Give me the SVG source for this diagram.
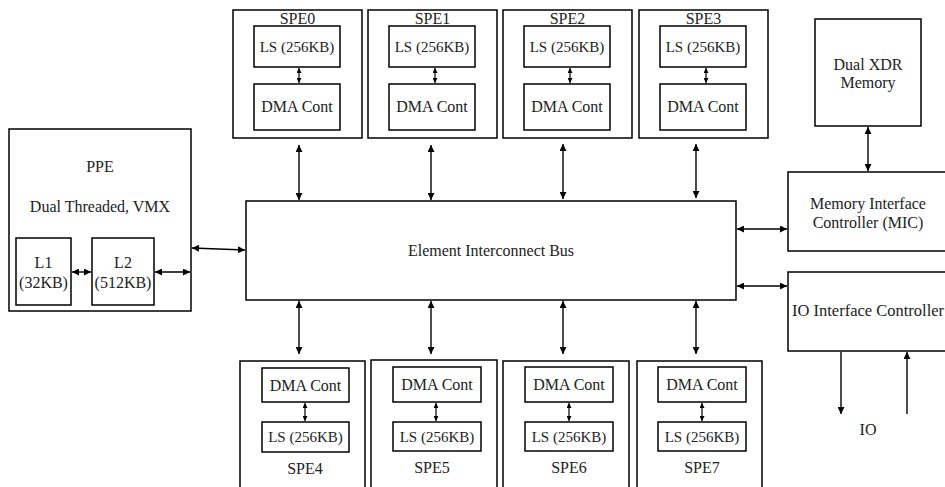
<svg xmlns="http://www.w3.org/2000/svg" width="945" height="487" viewBox="0 0 945 487">
<style>
  rect { fill: #fff; stroke: #000; stroke-width: 1.5; }
  text { font-family: "Liberation Serif", "DejaVu Serif", serif; font-size: 16px; fill: #222; text-anchor: middle; }
  text.ls { font-size: 15px; }
  .ln { stroke: #000; stroke-width: 1.4; fill: none; marker-start: url(#ah); marker-end: url(#ah); }
  .sm { stroke: #000; stroke-width: 1.2; fill: none; marker-start: url(#as); marker-end: url(#as); }
  .one { stroke: #000; stroke-width: 1.4; fill: none; marker-end: url(#ah); }
</style>
<defs>
  <marker id="ah" viewBox="0 0 10 10" refX="10" refY="5" markerUnits="userSpaceOnUse" markerWidth="8" markerHeight="7" orient="auto-start-reverse">
    <path d="M0,0 L10,5 L0,10 z" fill="#000"/>
  </marker>
  <marker id="as" viewBox="0 0 10 10" refX="10" refY="5" markerUnits="userSpaceOnUse" markerWidth="6" markerHeight="5" orient="auto-start-reverse">
    <path d="M0,0 L10,5 L0,10 z" fill="#000"/>
  </marker>
</defs>

<g id="spe0">
  <rect x="233" y="10" width="129" height="128"/>
  <text x="297.5" y="24">SPE0</text>
  <rect x="254" y="26" width="86" height="41"/>
  <text class="ls" x="297" y="52">LS (256KB)</text>
  <rect x="254" y="84" width="86" height="46"/>
  <text x="297" y="112">DMA Cont</text>
</g>
<g id="spe1">
  <rect x="368" y="10" width="129" height="128"/>
  <text x="432.5" y="24">SPE1</text>
  <rect x="389" y="26" width="86" height="41"/>
  <text class="ls" x="432" y="52">LS (256KB)</text>
  <rect x="389" y="84" width="86" height="46"/>
  <text x="432" y="112">DMA Cont</text>
</g>
<g id="spe2">
  <rect x="503" y="10" width="129" height="128"/>
  <text x="567.5" y="24">SPE2</text>
  <rect x="524" y="26" width="86" height="41"/>
  <text class="ls" x="567" y="52">LS (256KB)</text>
  <rect x="524" y="84" width="86" height="46"/>
  <text x="567" y="112">DMA Cont</text>
</g>
<g id="spe3">
  <rect x="639" y="10" width="129" height="128"/>
  <text x="703.5" y="24">SPE3</text>
  <rect x="660" y="26" width="86" height="41"/>
  <text class="ls" x="703" y="52">LS (256KB)</text>
  <rect x="660" y="84" width="86" height="46"/>
  <text x="703" y="112">DMA Cont</text>
</g>

<g id="spe4">
  <rect x="240" y="361" width="125" height="130"/>
  <rect x="262" y="368" width="87" height="34"/>
  <text x="305.5" y="391">DMA Cont</text>
  <rect x="262" y="422" width="87" height="30"/>
  <text class="ls" x="305.5" y="442">LS (256KB)</text>
  <text x="305" y="474">SPE4</text>
</g>
<g id="spe5">
  <rect x="371" y="360" width="126" height="131"/>
  <rect x="393" y="367" width="88" height="35"/>
  <text x="437" y="390">DMA Cont</text>
  <rect x="393" y="422" width="88" height="29"/>
  <text class="ls" x="437" y="442">LS (256KB)</text>
  <text x="432" y="473">SPE5</text>
</g>
<g id="spe6">
  <rect x="503" y="361" width="126" height="130"/>
  <rect x="525" y="367" width="88" height="35"/>
  <text x="569" y="390">DMA Cont</text>
  <rect x="525" y="422" width="88" height="29"/>
  <text class="ls" x="569" y="442">LS (256KB)</text>
  <text x="569" y="473">SPE6</text>
</g>
<g id="spe7">
  <rect x="637" y="361" width="125" height="130"/>
  <rect x="658" y="367" width="88" height="35"/>
  <text x="702" y="390">DMA Cont</text>
  <rect x="658" y="422" width="88" height="29"/>
  <text class="ls" x="702" y="442">LS (256KB)</text>
  <text x="702" y="473">SPE7</text>
</g>

<g id="ppe">
  <rect x="9" y="129" width="182" height="182"/>
  <text x="100" y="172">PPE</text>
  <text x="100" y="212">Dual Threaded, VMX</text>
  <rect x="16" y="238" width="55" height="67"/>
  <text x="43.5" y="268">L1</text>
  <text x="43.5" y="288">(32KB)</text>
  <rect x="92" y="238" width="62" height="67"/>
  <text x="123" y="268">L2</text>
  <text x="123" y="288">(512KB)</text>
</g>

<g id="eib">
  <rect x="246" y="201" width="490" height="99"/>
  <text x="491" y="256">Element Interconnect Bus</text>
</g>

<g id="xdr">
  <rect x="815" y="19" width="106" height="107"/>
  <text x="868" y="70">Dual XDR</text>
  <text x="868" y="88">Memory</text>
</g>

<g id="mic">
  <rect x="788" y="172" width="170" height="79"/>
  <text x="868" y="209">Memory Interface</text>
  <text x="868" y="228">Controller (MIC)</text>
</g>

<g id="ioc">
  <rect x="788" y="272" width="170" height="79"/>
  <text x="868" y="316" style="font-size:16.5px">IO Interface Controller</text>
</g>

<g id="io">
  <text x="868" y="435">IO</text>
</g>

<g id="connectors">
  <line class="sm" x1="299" y1="68" x2="299" y2="83"/>
  <line class="sm" x1="435" y1="68" x2="435" y2="83"/>
  <line class="sm" x1="570" y1="68" x2="570" y2="83"/>
  <line class="sm" x1="706" y1="68" x2="706" y2="83"/>

  <line class="sm" x1="305" y1="403" x2="305" y2="421"/>
  <line class="sm" x1="436" y1="403" x2="436" y2="421"/>
  <line class="sm" x1="569" y1="403" x2="569" y2="421"/>
  <line class="sm" x1="702" y1="403" x2="702" y2="421"/>

  <line class="ln" x1="299" y1="145" x2="299" y2="200"/>
  <line class="ln" x1="431" y1="145" x2="431" y2="200"/>
  <line class="ln" x1="563" y1="144" x2="563" y2="199"/>
  <line class="ln" x1="696" y1="144" x2="696" y2="198"/>

  <line class="ln" x1="299" y1="301" x2="299" y2="354"/>
  <line class="ln" x1="431" y1="301" x2="431" y2="354"/>
  <line class="ln" x1="563" y1="301" x2="563" y2="354"/>
  <line class="ln" x1="696" y1="301" x2="696" y2="354"/>

  <line class="ln" x1="72" y1="272" x2="91" y2="272"/>
  <line class="ln" x1="155" y1="272" x2="190" y2="272"/>
  <line class="ln" x1="192" y1="248" x2="245" y2="250"/>

  <line class="ln" x1="737" y1="229" x2="787" y2="229"/>
  <line class="ln" x1="737" y1="286" x2="787" y2="286"/>
  <line class="ln" x1="868" y1="127" x2="868" y2="171"/>

  <line class="one" x1="841" y1="352" x2="841" y2="414"/>
  <line class="one" x1="907" y1="414" x2="907" y2="352"/>
</g>
</svg>
